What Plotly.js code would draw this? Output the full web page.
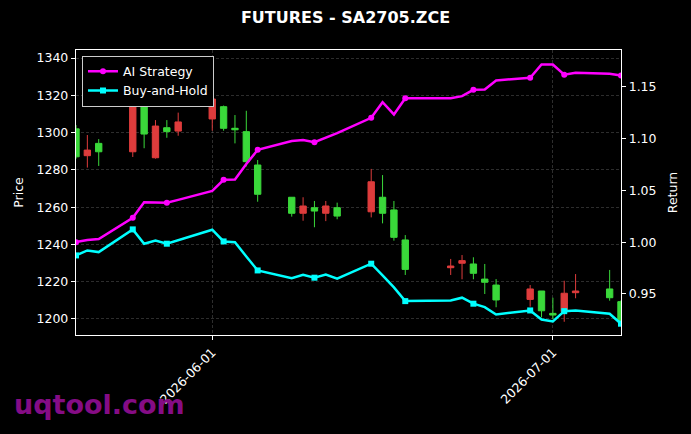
<!DOCTYPE html>
<html><head><meta charset="utf-8">
<script src="https://cdn.plot.ly/plotly-3.0.1.min.js"></script>
<style>html,body{margin:0;padding:0;background:#000;}#chart{width:691px;height:434px;}</style>
</head><body><div id="chart"></div>
<script>
const dates = ['2026-05-20','2026-05-21','2026-05-22','2026-05-25','2026-05-26','2026-05-27','2026-05-28','2026-05-29',
  '2026-06-01','2026-06-02','2026-06-03','2026-06-04','2026-06-05','2026-06-08','2026-06-09','2026-06-10','2026-06-11','2026-06-12',
  '2026-06-15','2026-06-16','2026-06-17','2026-06-18','2026-06-22','2026-06-23','2026-06-24','2026-06-25','2026-06-26',
  '2026-06-29','2026-06-30','2026-07-01','2026-07-02','2026-07-03','2026-07-06','2026-07-07'];
const openP  = [1287,1290.6,1289.7,1330,1299.2,1303.5,1300.5,1305.7,1318,1302.3,1301.5,1284.4,1266.9,1256.7,1260.6,1257.9,1260.6,1255.2,
  1273.6,1256.7,1243.8,1226.6,1228.4,1231.3,1224.5,1219.7,1210.2,1216.1,1204.4,1202.1,1213.8,1215,1211.4,1198.5];
const highP  = [1304,1298.7,1296.5,1337,1326,1306.7,1306.7,1310.7,1324,1314.5,1309.4,1311.7,1285.3,1265.3,1265.3,1263.3,1263.3,1262.4,
  1280.5,1277.2,1263.3,1245,1232.2,1234.3,1233.1,1229.5,1221.4,1218.2,1215,1211.4,1220.5,1224.1,1226.3,1210];
const lowP   = [1286,1281.2,1282.1,1286.9,1291.6,1286,1297.2,1298.3,1301,1301,1294.2,1281.8,1262.9,1254.9,1252.7,1249.2,1252.5,1253.5,
  1254.5,1251.3,1242,1223.6,1223.6,1221.3,1221.3,1213.4,1206.3,1206.6,1200.9,1199.8,1198.5,1211.1,1209.8,1198.3];
const closeP = [1302,1287.6,1294.2,1289.7,1320,1286.5,1302.6,1300.8,1307.3,1313.9,1302.3,1300.5,1282.6,1265.3,1256.7,1259.7,1256.7,1259.7,
  1257.5,1265.3,1258.5,1242.4,1227.5,1229.9,1229.5,1221.4,1218.2,1210.5,1215,1203,1203.9,1214.1,1216.1,1209.3];
const aiStrategy = [1.000,1.002,1.003,1.0235,1.0385,1.0383,1.038,1.0408,1.0494,1.0602,1.0605,1.0754,1.0891,1.0976,1.0986,1.0965,1.1007,1.1052,
  1.120,1.135,1.1232,1.1389,1.1389,1.1409,1.147,1.1473,1.156,1.1586,1.1714,1.1714,1.1615,1.1634,1.1625,1.1608];
const buyHold = [0.9872,0.992,0.9904,1.0123,0.9985,1.0016,0.9985,1.002,1.012,1.0007,1.0,0.9862,0.9727,0.9653,0.9685,0.9657,0.9688,0.9647,
  0.9792,0.9679,0.9563,0.9431,0.9438,0.9464,0.9406,0.9373,0.9302,0.9341,0.9254,0.9235,0.9334,0.9341,0.9309,0.9213];
const xTicks = ['2026-06-01','2026-07-01'];
const priceTicks = [1200,1220,1240,1260,1280,1300,1320,1340];
const returnTicks = [0.95,1.00,1.05,1.10,1.15];

const MAG = '#ff00ff', CYA = '#00ffff', UP = '#3ad83a', DOWN = '#de3c3c';
const every = 3;
const mcol = (c) => dates.map((d, i) => i % every === 0 ? c : 'rgba(0,0,0,0)');
const FONT = 'DejaVu Sans, Liberation Sans, sans-serif';
const gridC = 'rgba(128,128,128,0.5)';
const gridDash = '3px,2px';

const traces = [
  {type:'candlestick', x:dates, open:openP, high:highP, low:lowP, close:closeP, xaxis:'x', yaxis:'y',
   increasing:{line:{color:UP, width:1}, fillcolor:UP}, decreasing:{line:{color:DOWN, width:1}, fillcolor:DOWN},
   whiskerwidth:0, showlegend:false, hoverinfo:'skip'},
  {type:'scatter', mode:'lines+markers', name:'AI Strategy', x:dates, y:aiStrategy, yaxis:'y2',
   line:{color:MAG, width:2.5}, marker:{symbol:'circle', size:6, color:mcol(MAG), line:{width:0}}},
  {type:'scatter', mode:'lines+markers', name:'Buy-and-Hold', x:dates, y:buyHold, yaxis:'y2',
   line:{color:CYA, width:2.5}, marker:{symbol:'square', size:6, color:mcol(CYA), line:{width:0}}}
];

const layout = {
  width:691, height:434,
  paper_bgcolor:'#000', plot_bgcolor:'#000',
  margin:{l:76, r:70, t:50, b:99, pad:0},
  font:{family:FONT, color:'#fff', size:12.5},
  title:{text:'<b>FUTURES - SA2705.ZCE</b>', font:{family:FONT, size:16, color:'#fff'},
         x:0.5, xanchor:'center', y:0.96, yanchor:'middle', xref:'container', yref:'container'},
  showlegend:true,
  legend:{x:0.011, y:0.98, xanchor:'left', yanchor:'top', bgcolor:'#000', bordercolor:'#cccccc', borderwidth:1,
          font:{size:12.5, color:'#fff'}, tracegroupgap:0, itemwidth:30},
  boxgap:0.2,
  hovermode:false,
  xaxis:{type:'date', range:[dates[0], dates[dates.length-1]], tickmode:'array', tickvals:xTicks, ticktext:xTicks,
         tickangle:-45, showgrid:true, gridcolor:gridC, griddash:gridDash, gridwidth:0.7,
         showline:true, linecolor:'#fff', linewidth:1.2, mirror:true, ticks:'outside', ticklen:4, tickcolor:'#fff',
         rangeslider:{visible:false}, zeroline:false, tickfont:{size:12.5, color:'#fff'}},
  yaxis:{range:[1191.4,1344.3], tickmode:'array', tickvals:priceTicks, ticktext:priceTicks.map(String),
         showgrid:true, gridcolor:gridC, griddash:gridDash, gridwidth:0.7, zeroline:false,
         showline:true, linecolor:'#fff', linewidth:1.2, mirror:true, ticks:'outside', ticklen:4, tickcolor:'#fff',
         tickfont:{size:12.5, color:'#fff'}, title:{text:'Price', font:{size:12.5, color:'#fff'}, standoff:10}},
  yaxis2:{overlaying:'y', side:'right', range:[0.9104,1.1854], tickmode:'array', tickvals:returnTicks,
          ticktext:returnTicks.map(v => v.toFixed(2)), showgrid:false, zeroline:false,
          showline:true, linecolor:'#fff', linewidth:1.2, ticks:'outside', ticklen:4, tickcolor:'#fff',
          tickfont:{size:12.5, color:'#fff'}, title:{text:'Return', font:{size:12.5, color:'#fff'}, standoff:12}},
  annotations:[{text:'<b>uqtool.com</b>', xref:'paper', yref:'paper', x:-0.1174, y:-0.245, xanchor:'left', yanchor:'middle',
                showarrow:false, font:{family:FONT, size:27, color:'#850c85'}}]
};

Plotly.newPlot('chart', traces, layout, {staticPlot:true, displayModeBar:false});
</script>
</body></html>
